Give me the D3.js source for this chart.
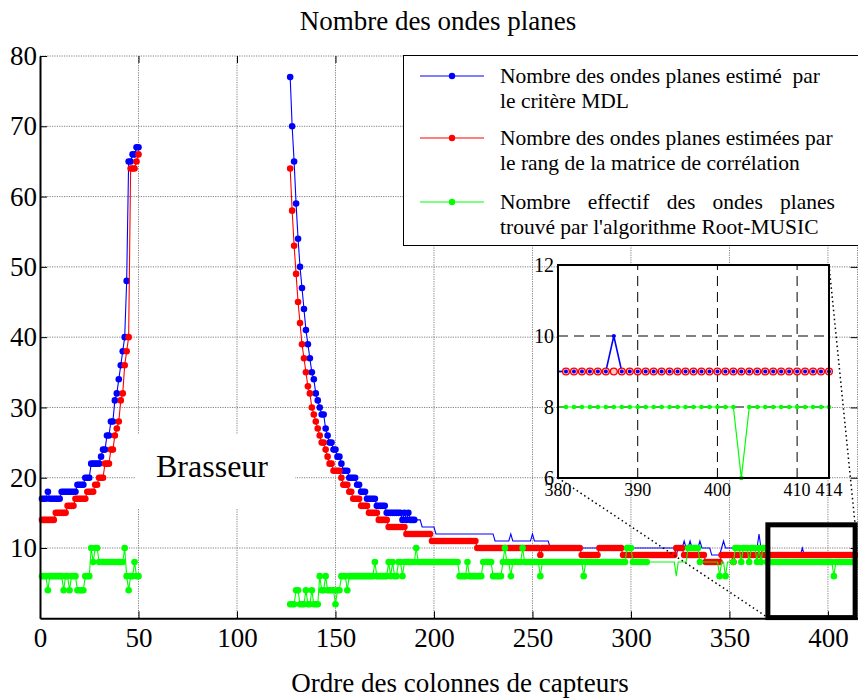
<!DOCTYPE html>
<html><head><meta charset="utf-8">
<script src="https://cdn.jsdelivr.net/npm/d3@7"></script>
<style>body{margin:0;background:#fff} text{font-family:"Liberation Serif","Times New Roman",serif;fill:#000}</style>
</head><body><svg id="c" width="858" height="698"></svg>
<script>
// ---------- data ----------
const xTicks=[0,50,100,150,200,250,300,350,400];
const yTicks=[10,20,30,40,50,60,70,80];
const insetXTicks=[380,390,400,410,414];
const insetYTicks=[6,8,10,12];
const leftStart=1, rightStart=127;
const blueLeft=[17,17,17,18,17,17,17,17,17,17, 18,18,18,18,18,18,18,18,19,19, 19,19,20,20,20,22,22,22,22,22, 23,24,24,26,26,28,28,31,32,34, 36,38,40,48,65,65,66,66,67,67];
const redLeft=[14,14,14,14,14,14,14,15,15,15, 15,15,15,16,16,16,16,17,17,17, 17,17,17,18,18,18,18,19,19,20, 20,20,22,22,22,24,24,26,27,28, 31,32,36,38,40,64,64,64,65,66];
const greenLeft=[6,6,6,4,6,6,6,6,6,6, 6,4,6,6,4,6,6,6,4,4, 4,4,6,6,6,10,8,10,10,8, 8,8,8,8,8,8,8,8,8,8, 8,8,10,6,4,6,6,8,6,6];
const blueRight=[
77,70,65,59,54,50,47,44,41,39,
37,35,34,32,31,30,29,29,27,26,
25,25,24,24,23,23,22,21,21,21,
20,20,20,20,19,19,18,18,18,17,
17,17,17,17,16,16,16,16,16,15,
15,15,15,15,15,15,15,14,15,14,
15,14,14,14,14,14,14,13,13,13,
13,13,13,13,12,12,12,12,12,12,
12,12,12,12,12,12,12,12,12,12,
12,12,12,12,12,12,12,12,12,12,
12,12,12,12,11,11,11,11,11,11,
11,11,12,11,11,11,11,11,11,11,
11,11,11,12,11,11,11,11,11,11,
11,11,10,10,10,10,10,10,10,10,
10,10,10,10,10,10,10,10,10,10,
10,10,10,10,10,10,10,10,10,10,
10,10,10,10,10,10,10,10,10,10,
10,10,10,10,10,10,10,10,10,10,
10,10,10,10,10,10,10,10,10,10,
10,10,10,10,10,10,9,10,10,10,
11,10,10,11,10,10,10,10,11,10,
10,10,10,10,9,9,9,9,9,10,
11,10,10,10,10,10,10,10,10,10,
10,10,10,10,10,10,10,10,12,10,
9,9,9,9,9,9,9,9,9,9,
9,9,9,9,9,9,9,9,9,9,
10,9,9,9,9,9,9,9,9,9,
9,9,9,9,9,9,9,9,9,9,
9,9,9,9,9,9,9,9];
const redRight=[
64,58,53,49,45,42,39,37,35,33,
32,30,29,28,27,26,25,25,24,23,
22,22,21,21,21,21,20,19,19,19,
18,18,17,17,17,17,16,16,16,16,
15,15,15,15,15,14,14,14,14,14,
13,13,13,13,13,13,13,13,13,12,
12,12,12,12,12,12,12,12,12,12,
12,12,11,11,11,11,11,11,11,11,
11,11,11,11,11,11,11,11,11,11,
11,11,11,11,11,10,10,10,10,10,
10,10,10,10,10,10,10,10,10,10,
10,10,10,10,10,10,10,10,10,10,
10,10,10,10,10,10,10,9,10,10,
10,10,10,10,10,10,10,10,10,10,
10,10,10,10,10,10,10,10,9,9,
9,9,9,9,9,9,9,10,10,10,
10,10,10,10,10,10,10,10,10,9,
9,9,9,9,9,9,9,9,9,9,
9,9,9,9,9,9,9,9,9,9,
9,9,9,9,9,9,10,10,10,10,
9,9,9,9,9,9,9,9,9,9,
9,8,8,8,8,8,8,8,8,9,
9,9,9,9,9,8,9,9,9,9,
9,9,9,9,9,9,9,9,9,9,
9,9,9,9,9,9,9,9,9,9,
9,9,9,9,9,9,9,9,9,9,
9,9,9,9,9,9,9,9,9,9,
9,9,9,9,9,9,9,9,9,9,
9,9,9,9,9,9,9,9];
const greenRight=[
2,2,2,4,4,2,2,2,4,2,
2,4,2,2,2,6,4,4,6,4,
4,4,4,2,4,4,6,6,6,4,
6,6,6,6,6,6,6,6,6,6,
6,6,6,8,6,6,6,6,6,6,
8,6,8,6,6,8,8,6,8,8,
8,8,8,8,10,8,8,8,8,8,
8,8,8,8,8,8,8,8,8,8,
8,8,8,8,8,8,6,6,6,6,
8,6,6,6,6,6,6,6,8,8,
8,8,8,6,6,6,6,6,8,10,
8,8,6,8,8,8,8,8,10,8,
8,8,8,8,8,8,8,6,8,8,
8,8,8,8,8,8,8,8,8,8,
8,8,8,8,8,8,8,8,8,6,
8,8,8,8,8,8,8,8,8,8,
8,8,8,8,8,8,8,8,8,8,
8,10,10,10,8,8,8,8,8,8,
8,8,8,8,8,8,8,8,8,8,
8,8,8,8,8,8,6,8,8,8,
8,8,10,10,10,10,10,10,8,8,
8,8,8,8,8,8,8,8,6,8,
8,6,8,8,8,8,10,10,10,8,
10,10,10,8,10,10,10,8,10,8,
10,10,8,8,8,8,8,8,8,8,
8,8,8,8,8,8,8,8,8,8,
8,8,8,8,8,8,8,8,8,8,
8,8,8,8,8,8,6,8,8,8,
8,8,8,8,8,8,8,8];
const blueMarkerHidden=[[191,414]];
const redMarkerHidden=[];
const greenMarkerHidden=[[309,328],[336,344],[346,347],[349,351]];
const legendLines=[
  ["Nombre des ondes planes estimé  par","le critère MDL"],
  ["Nombre des ondes planes estimées par","le rang de la matrice de corrélation"],
  ["Nombre effectif des ondes planes","trouvé par l'algorithme Root-MUSIC"]];
const colors={blue:"#0000ff",red:"#ff0000",green:"#00ff00"};

// ---------- chart ----------
const SERIF='"Liberation Serif","Times New Roman",serif';
const svg=d3.select('#c');
svg.append('rect').attr('width',858).attr('height',698).attr('fill','#fff');
const x=d3.scaleLinear().domain([0,415]).range([40,857.5]);
const y=d3.scaleLinear().domain([0,80]).range([618.3,56]);
const gridStyle=s=>s.attr('stroke','#808080').attr('stroke-width',1).attr('stroke-dasharray','1.2,1.2');

// grid
const grid=svg.append('g');
grid.selectAll('.vg').data(xTicks.filter(t=>t>0).concat([415])).join('line')
  .attr('x1',d=>x(d)).attr('x2',d=>x(d)).attr('y1',y(0)).attr('y2',y(80)).call(gridStyle);
grid.selectAll('.hg').data(yTicks).join('line')
  .attr('x1',x(0)).attr('x2',x(415)).attr('y1',d=>y(d)).attr('y2',d=>y(d)).call(gridStyle);

// Brasseur label with white background
svg.append('rect').attr('x',135).attr('y',434).attr('width',160).attr('height',74).attr('fill','#fff');
svg.append('text').attr('x',212).attr('y',466).attr('text-anchor','middle').attr('dominant-baseline','central')
  .attr('font-size',32).text('Brasseur');

// series
const pts=(arr,start)=>arr.map((v,i)=>({x:start+i,v}));
const hidden=(ranges,xx)=>ranges.some(r=>xx>=r[0]&&xx<=r[1]);
const line=d3.line().x(d=>x(d.x)).y(d=>y(d.v));
const series=[
  {c:colors.blue,left:blueLeft,right:blueRight,hide:blueMarkerHidden},
  {c:colors.red,left:redLeft,right:redRight,hide:redMarkerHidden},
  {c:colors.green,left:greenLeft,right:greenRight,hide:greenMarkerHidden}];
const gData=svg.append('g');
series.forEach(s=>{
  [pts(s.left,leftStart),pts(s.right,rightStart)].forEach(p=>{
    gData.append('path').attr('d',line(p)).attr('fill','none').attr('stroke',s.c).attr('stroke-width',1.1);
    gData.append('g').selectAll('circle').data(p.filter(d=>!hidden(s.hide,d.x))).join('circle')
      .attr('cx',d=>x(d.x)).attr('cy',d=>y(d.v)).attr('r',3.3).attr('fill',s.c);
  });
});

// axes
const fs=27;
const ax=svg.append('g').attr('transform',`translate(0,${y(0)})`)
  .call(d3.axisBottom(x).tickValues(xTicks).tickSizeInner(-7).tickSizeOuter(0).tickPadding(10));
const ay=svg.append('g').attr('transform',`translate(${x(0)},0)`)
  .call(d3.axisLeft(y).tickValues(yTicks).tickSizeInner(-7).tickSizeOuter(0).tickPadding(3));
const ar=svg.append('g').attr('transform',`translate(${x(415)},0)`)
  .call(d3.axisRight(y).tickValues(yTicks).tickSizeInner(-7).tickSizeOuter(0).tickFormat(''));
const at=svg.append('g').attr('transform',`translate(0,${y(80)})`)
  .call(d3.axisTop(x).tickValues(xTicks).tickSizeInner(-7).tickSizeOuter(0).tickFormat(''));
[ax,ay].forEach(a=>{a.attr('font-family',null).attr('font-size',null);
  a.select('.domain').attr('stroke','#000').attr('stroke-width',2);
  a.selectAll('text').style('font-size',fs+'px');
  a.selectAll('.tick line').attr('stroke','#000');});
[ar,at].forEach(a=>{a.select('.domain').remove();a.selectAll('.tick line').attr('stroke','#000');});

// zoom box
svg.append('rect').attr('x',x(369.5)).attr('y',y(13.3)).attr('width',x(413.8)-x(369.5)).attr('height',y(0.1)-y(13.3))
  .attr('fill','none').attr('stroke','#000').attr('stroke-width',5);

// inset
const ix=d3.scaleLinear().domain([380,414]).range([558,829]);
const iy=d3.scaleLinear().domain([6,12]).range([478,265]);
svg.append('line').attr('x1',ix(380)).attr('y1',iy(6)).attr('x2',x(369.5)).attr('y2',y(0.1))
  .attr('stroke','#000').attr('stroke-width',1.5).attr('stroke-dasharray','1.5,3');
svg.append('line').attr('x1',ix(414)).attr('y1',iy(12)).attr('x2',x(413.8)).attr('y2',y(13.3))
  .attr('stroke','#000').attr('stroke-width',1.5).attr('stroke-dasharray','1.5,3');
const gi=svg.append('g');
gi.append('rect').attr('x',ix(380)).attr('y',iy(12)).attr('width',ix(414)-ix(380)).attr('height',iy(6)-iy(12)).attr('fill','#fff');
svg.append('clipPath').attr('id','ic').append('rect').attr('x',ix(380)).attr('y',iy(12)-5).attr('width',ix(414)-ix(380)+5).attr('height',iy(6)-iy(12)+10);
const dash=s=>s.attr('stroke','#000').attr('stroke-width',1).attr('stroke-dasharray','10,6');
gi.selectAll('.ivg').data([390,400,410]).join('line').attr('x1',d=>ix(d)).attr('x2',d=>ix(d)).attr('y1',iy(6)).attr('y2',iy(12)).call(dash);
gi.selectAll('.ihg').data([8,10]).join('line').attr('x1',ix(380)).attr('x2',ix(414)).attr('y1',d=>iy(d)).attr('y2',d=>iy(d)).call(dash);
const gic=gi.append('g').attr('clip-path','url(#ic)');
const iline=d3.line().x(d=>ix(d.x)).y(d=>iy(d.v));
const inset=arr=>pts(arr,rightStart).filter(d=>d.x>=380);
const ib=inset(blueRight), ir=inset(redRight), ig=inset(greenRight);
gic.append('path').attr('d',iline(ir)).attr('fill','none').attr('stroke',colors.red).attr('stroke-width',1.5);
gic.append('path').attr('d',iline(ig)).attr('fill','none').attr('stroke',colors.green).attr('stroke-width',1.2);
gic.append('path').attr('d',iline(ib)).attr('fill','none').attr('stroke',colors.blue).attr('stroke-width',1.6);
gic.selectAll('.rc').data(ir.filter(d=>d.x>380)).join('circle').attr('cx',d=>ix(d.x)).attr('cy',d=>iy(d.v)).attr('r',3.4)
  .attr('fill','#ffc8c8').attr('stroke',colors.red).attr('stroke-width',1.3);
gic.selectAll('.bc').data(ib.filter(d=>d.x>380)).join('circle').attr('cx',d=>ix(d.x)).attr('cy',d=>iy(d.v)).attr('r',2).attr('fill',colors.blue);
gic.selectAll('.gc').data(ig.filter(d=>d.x>380)).join('circle').attr('cx',d=>ix(d.x)).attr('cy',d=>iy(d.v)).attr('r',2.3).attr('fill',colors.green);
gi.append('rect').attr('x',ix(380)).attr('y',iy(12)).attr('width',ix(414)-ix(380)).attr('height',iy(6)-iy(12))
  .attr('fill','none').attr('stroke','#000').attr('stroke-width',2);
gi.selectAll('.iyl').data(insetYTicks).join('text').attr('x',ix(380)-4).attr('y',d=>iy(d)).attr('text-anchor','end')
  .attr('dominant-baseline','central').attr('font-size',20).text(d=>d);
gi.selectAll('.ixl').data(insetXTicks).join('text').attr('x',d=>ix(d)).attr('y',iy(6)+12).attr('text-anchor','middle')
  .attr('dominant-baseline','central').attr('font-size',18).text(d=>d);

// legend
const lg=svg.append('g');
lg.append('rect').attr('x',403.5).attr('y',55.5).attr('width',460).attr('height',190).attr('fill','#fff').attr('stroke','#000').attr('stroke-width',1);
const legY=[[76,101],[138,163],[202,227]];
[colors.blue,colors.red,colors.green].forEach((c,i)=>{
  lg.append('line').attr('x1',420).attr('x2',484).attr('y1',legY[i][0]).attr('y2',legY[i][0]).attr('stroke',c).attr('stroke-width',1.2);
  lg.append('circle').attr('cx',452).attr('cy',legY[i][0]).attr('r',3.2).attr('fill',c);
  legendLines[i].forEach((t,j)=>{
    if(i===2&&j===0){
      const words=t.split(' ');
      const ws=words.map(w=>lg.append('text').attr('font-size',21.5).attr('dominant-baseline','central').attr('y',legY[i][j]).style('font-family',SERIF).text(w));
      const widths=ws.map(e=>e.node().getComputedTextLength());
      const gap=(335-d3.sum(widths))/(words.length-1);
      let cx=500; ws.forEach((e,k)=>{e.attr('x',cx);cx+=widths[k]+gap;});
    } else {
      lg.append('text').attr('x',500).attr('y',legY[i][j]).attr('font-size',21.5).attr('dominant-baseline','central')
        .style('white-space','pre').text(t);
    }
  });
});

// titles
svg.append('text').attr('x',438).attr('y',21).attr('text-anchor','middle').attr('dominant-baseline','central').attr('font-size',27).text('Nombre des ondes planes');
svg.append('text').attr('x',460).attr('y',683).attr('text-anchor','middle').attr('dominant-baseline','central').attr('font-size',27).text('Ordre des colonnes de capteurs');

svg.selectAll('text').style('font-family',SERIF).style('fill','#000');
</script></body></html>
